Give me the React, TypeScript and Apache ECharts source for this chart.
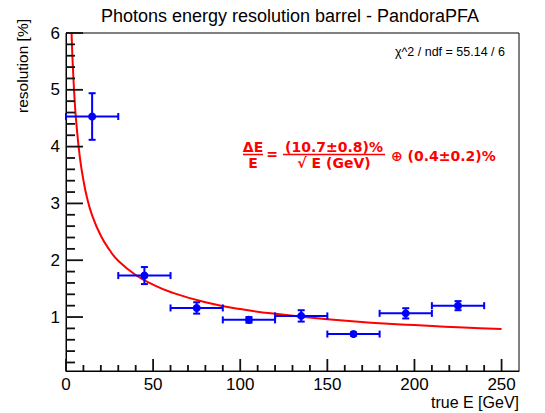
import React, { useEffect, useRef } from "react";
import * as echarts from "echarts";

const energies = [15, 45, 75, 105, 135, 165, 195, 225];
const resolution = [4.53, 1.73, 1.16, 0.95, 1.02, 0.7, 1.065, 1.2];
const energyErr = [15, 15, 15, 15, 15, 15, 15, 15];
const resolutionErr = [0.41, 0.15, 0.1, 0.05, 0.1, 0.03, 0.09, 0.08];

const fitEnergies = [3.2, 3.5, 4, 5, 6, 8, 10, 12, 15, 20, 25, 30, 40, 50, 60, 80, 100, 125, 150, 175, 200, 225, 250];
const fitResolution = [5.99, 5.73, 5.37, 4.8, 4.39, 3.8, 3.41, 3.11, 2.79, 2.43, 2.18, 1.99, 1.74, 1.57, 1.44, 1.26, 1.14, 1.04, 0.96, 0.9, 0.86, 0.82, 0.79];

const xMajorTicks = [0, 50, 100, 150, 200, 250];
const xMinorTicks = [10, 20, 30, 40, 60, 70, 80, 90, 110, 120, 130, 140, 160, 170, 180, 190, 210, 220, 230, 240];
const yMajorTicks = [1, 2, 3, 4, 5, 6];
const yMinorTicks = [0.2, 0.4, 0.6, 0.8, 1.2, 1.4, 1.6, 1.8, 2.2, 2.4, 2.6, 2.8, 3.2, 3.4, 3.6, 3.8, 4.2, 4.4, 4.6, 4.8, 5.2, 5.4, 5.6, 5.8];

const X_MIN = 0;
const X_MAX = 260;
const Y_MIN = 0.05;
const Y_MAX = 6;

const RED = "#ff0000";
const BLUE = "#0000ff";

export default function App() {
  const ref = useRef<HTMLDivElement>(null);
  useEffect(() => {
    const chart = echarts.init(ref.current!, null, { renderer: "svg" });
    const pointData = energies.map((e, i) => [e, resolution[i], energyErr[i], resolutionErr[i]]);
    const fitData = fitEnergies.map((e, i) => [e, fitResolution[i]]);
    const tickData = [
      ...xMajorTicks.map((v) => [v, Y_MIN, 0]),
      ...xMinorTicks.map((v) => [v, Y_MIN, 1]),
      ...yMajorTicks.map((v) => [X_MIN, v, 2]),
      ...yMinorTicks.map((v) => [X_MIN, v, 3]),
    ];
    const tickLen = [12, 6, 17, 9];
    const font = "Liberation Sans, Arial, sans-serif";
    const fbold = "DejaVu Sans, Verdana, sans-serif";
    chart.setOption({
      animation: false,
      grid: { left: 66, right: 26, top: 33, bottom: 42, show: true, borderColor: "#000", borderWidth: 1 },
      xAxis: {
        type: "value",
        min: X_MIN,
        max: X_MAX,
        interval: 50,
        axisLine: { show: true, onZero: false, lineStyle: { color: "#000" } },
        axisTick: { show: false },
        splitLine: { show: false },
        axisLabel: { color: "#000", fontSize: 17, fontFamily: font, margin: 5, showMaxLabel: false },
      },
      yAxis: {
        type: "value",
        min: Y_MIN,
        max: Y_MAX,
        minInterval: 1,
        maxInterval: 1,
        axisLine: { show: true, onZero: false, lineStyle: { color: "#000" } },
        axisTick: { show: false },
        splitLine: { show: false },
        axisLabel: { color: "#000", fontSize: 17, fontFamily: font, margin: 6, showMinLabel: false },
      },
      series: [
        {
          type: "custom",
          data: tickData,
          encode: { x: 0, y: 1 },
          silent: true,
          clip: false,
          z: 10,
          renderItem: (params: any, api: any) => {
            const p = api.coord([api.value(0), api.value(1)]);
            const kind = api.value(2);
            const len = tickLen[kind];
            const st = { stroke: "#111111", lineWidth: 1.8 };
            if (kind < 2) {
              return { type: "line", shape: { x1: p[0], y1: p[1], x2: p[0], y2: p[1] - len }, style: st };
            }
            return { type: "line", shape: { x1: p[0], y1: p[1], x2: p[0] + len, y2: p[1] }, style: st };
          },
        },
        {
          type: "line",
          data: fitData,
          showSymbol: false,
          symbol: "none",
          smooth: true,
          clip: true,
          lineStyle: { color: RED, width: 2 },
          z: 3,
        },
        {
          type: "custom",
          data: pointData,
          encode: { x: 0, y: 1 },
          z: 4,
          renderItem: (params: any, api: any) => {
            const x = api.value(0);
            const y = api.value(1);
            const xe = api.value(2);
            const ye = api.value(3);
            const c = api.coord([x, y]);
            const l = api.coord([x - xe, y]);
            const r = api.coord([x + xe, y]);
            const t = api.coord([x, y + ye]);
            const b = api.coord([x, y - ye]);
            const cap = 3.5;
            const st = { stroke: BLUE, lineWidth: 2 };
            return {
              type: "group",
              children: [
                { type: "line", shape: { x1: l[0], y1: l[1], x2: r[0], y2: r[1] }, style: st },
                { type: "line", shape: { x1: t[0], y1: t[1], x2: b[0], y2: b[1] }, style: st },
                { type: "line", shape: { x1: l[0], y1: l[1] - cap, x2: l[0], y2: l[1] + cap }, style: st },
                { type: "line", shape: { x1: r[0], y1: r[1] - cap, x2: r[0], y2: r[1] + cap }, style: st },
                { type: "line", shape: { x1: t[0] - cap, y1: t[1], x2: t[0] + cap, y2: t[1] }, style: st },
                { type: "line", shape: { x1: b[0] - cap, y1: b[1], x2: b[0] + cap, y2: b[1] }, style: st },
                { type: "circle", shape: { cx: c[0], cy: c[1], r: 4 }, style: { fill: BLUE } },
              ],
            };
          },
        },
      ],
      graphic: [
        { type: "text", x: 290, y: 16, style: { text: "Photons energy resolution barrel - PandoraPFA", fill: "#000", font: `18px ${font}`, align: "center", verticalAlign: "middle" } },
        { type: "text", x: 505, y: 52, style: { text: "χ^2 / ndf = 55.14 / 6", fill: "#000", font: `12.5px ${font}`, align: "right", verticalAlign: "middle" } },
        { type: "text", x: 22, y: 19, rotation: Math.PI / 2, style: { text: "resolution [%]", fill: "#000", font: `15.5px ${font}`, align: "right", verticalAlign: "middle" } },
        { type: "text", x: 519, y: 402, style: { text: "true E [GeV]", fill: "#000", font: `16px ${font}`, align: "right", verticalAlign: "middle" } },
        { type: "text", x: 253, y: 147, style: { text: "ΔE", fill: RED, font: `bold 14px ${fbold}`, align: "center", verticalAlign: "middle" } },
        { type: "line", shape: { x1: 243, y1: 154.5, x2: 263, y2: 154.5 }, style: { stroke: RED, lineWidth: 1.5 } },
        { type: "text", x: 253, y: 163, style: { text: "E", fill: RED, font: `bold 14px ${fbold}`, align: "center", verticalAlign: "middle" } },
        { type: "text", x: 272, y: 154, style: { text: "=", fill: RED, font: `bold 14px ${fbold}`, align: "center", verticalAlign: "middle" } },
        { type: "text", x: 334, y: 147, style: { text: "(10.7±0.8)%", fill: RED, font: `bold 14px ${fbold}`, align: "center", verticalAlign: "middle" } },
        { type: "line", shape: { x1: 283, y1: 154.5, x2: 385, y2: 154.5 }, style: { stroke: RED, lineWidth: 1.5 } },
        { type: "text", x: 334, y: 163, style: { text: "√ E (GeV)", fill: RED, font: `bold 14px ${fbold}`, align: "center", verticalAlign: "middle" } },
        { type: "text", x: 391, y: 156, style: { text: "⊕ (0.4±0.2)%", fill: RED, font: `bold 14px ${fbold}`, align: "left", verticalAlign: "middle" } },
      ],
    });
    return () => chart.dispose();
  }, []);
  return <div ref={ref} style={{ width: 545, height: 413, position: "absolute", left: 0, top: 0 }} />;
}
